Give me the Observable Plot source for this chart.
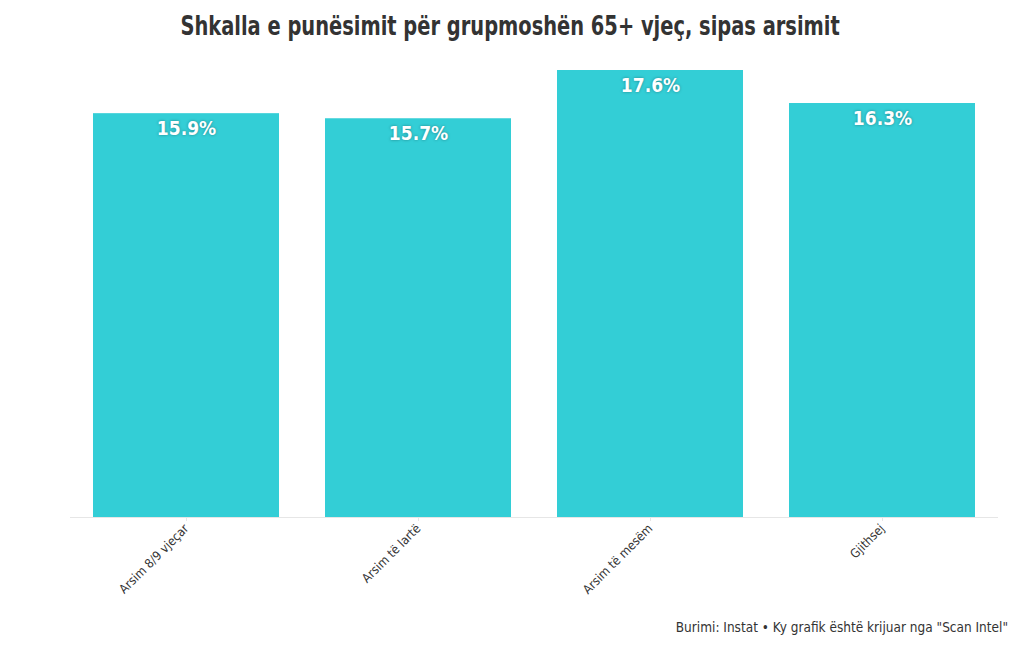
<!DOCTYPE html>
<html>
<head>
<meta charset="utf-8">
<script src="https://cdn.jsdelivr.net/npm/d3@7"></script>
<script src="https://cdn.jsdelivr.net/npm/@observablehq/plot@0.6"></script>
<style>
  html, body { margin: 0; padding: 0; background: #fff; }
  #wrap { width: 1020px; height: 650px; position: relative; font-family: "DejaVu Sans", sans-serif; font-stretch: condensed; }
  #title { height: 50px; line-height: 52px; text-align: center; font-size: 27px; font-weight: bold; color: #333; }
  #title span { display: inline-block; transform: scaleX(0.80); transform-origin: center; white-space: nowrap; }
  #caption { position: absolute; right: 12px; top: 619px; font-size: 13.5px; color: #333; }
  svg text { font-stretch: condensed; }
  .vlabel text { text-shadow: 0 0 3px rgba(0,0,0,0.35); }
</style>
</head>
<body>
<div id="wrap">
  <div id="title"><span>Shkalla e punësimit për grupmoshën 65+ vjeç, sipas arsimit</span></div>
  <div id="chart"></div>
  <div id="caption">Burimi: Instat • Ky grafik është krijuar nga "Scan Intel"</div>
</div>
<script>
const categories = ["Arsim 8/9 vjeçar", "Arsim të lartë", "Arsim të mesëm", "Gjithsej"];
const values = [15.9, 15.7, 17.6, 16.3];
const data = categories.map((c, i) => ({category: c, value: values[i]}));

const chart = Plot.plot({
  width: 1020,
  height: 560,
  marginTop: 20,
  marginBottom: 93,
  marginLeft: 70,
  marginRight: 22,
  style: {fontFamily: "'DejaVu Sans', sans-serif", background: "#fff"},
  x: {domain: categories, paddingInner: 0.2, paddingOuter: 0.1, label: null},
  y: {domain: [0, 17.6], axis: null},
  marks: [
    Plot.barY(data, {x: "category", y: "value", fill: "#33CED6"}),
    Plot.ruleY([0], {stroke: "#e6e6e6"}),
    Plot.axisX({tickRotate: -45, tickSize: 4, stroke: "#e6e6e6", fontSize: 12.5, fill: "#333", tickPadding: 5, label: null}),
    Plot.text(data, {x: "category", y: "value", text: d => d.value.toFixed(1) + "%", dy: 15, fill: "#fff", fontSize: 19, fontWeight: "bold", className: "vlabel"})
  ]
});
document.getElementById("chart").appendChild(chart);
</script>
</body>
</html>
